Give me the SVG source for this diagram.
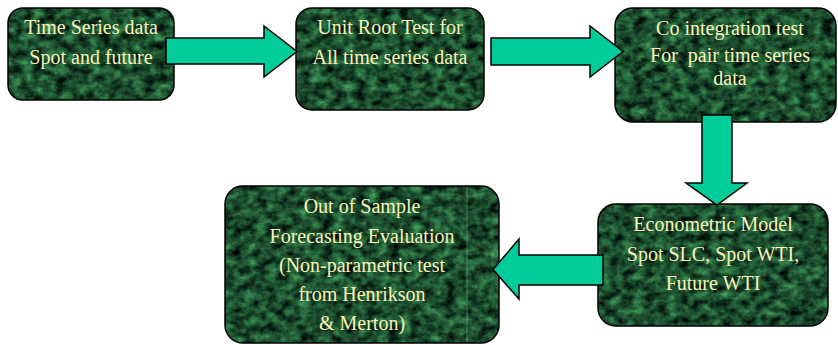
<svg xmlns="http://www.w3.org/2000/svg" width="838" height="345" viewBox="0 0 838 345">
<defs>
<filter id="marble" x="0" y="0" width="100%" height="100%" color-interpolation-filters="sRGB">
<feTurbulence type="fractalNoise" baseFrequency="0.09 0.12" numOctaves="5" seed="4" result="n"/>
<feColorMatrix in="n" type="matrix" values="0.38 0 0 0 -0.08  0.85 0 0 0 -0.12  0.48 0 0 0 -0.06  0 0 0 0 1" result="c"/>
<feComposite in="c" in2="SourceAlpha" operator="in"/>
</filter>
<style>
.box{fill:#1c4f30;filter:url(#marble);}
.edge{fill:none;stroke:#000;stroke-width:1.5;}
.lbl{font-family:"Liberation Serif","Times New Roman",serif;font-size:20px;fill:#f7f2b8;text-anchor:middle;white-space:pre;}
.arrow{fill:#00cc99;stroke:#000;stroke-width:1.5;stroke-linejoin:miter;}
</style>
</defs>
<rect width="838" height="345" fill="#ffffff"/>
<g id="node-timeseries">
<rect class="box" x="8" y="8" width="166" height="92" rx="15"/>
<rect class="edge" x="8" y="8" width="166" height="92" rx="15"/>
<text class="lbl" x="91" y="34">Time Series data</text>
<text class="lbl" x="91" y="64">Spot and future</text>
</g>
<g id="node-unitroot">
<rect class="box" x="296" y="8" width="188" height="102" rx="16"/>
<rect class="edge" x="296" y="8" width="188" height="102" rx="16"/>
<text class="lbl" x="390" y="34">Unit Root Test for</text>
<text class="lbl" x="390" y="64">All time series data</text>
</g>
<g id="node-cointegration">
<rect class="box" x="615" y="8" width="221" height="114" rx="18"/>
<rect class="edge" x="615" y="8" width="221" height="114" rx="18"/>
<text class="lbl" x="730" y="35">Co integration test</text>
<text class="lbl" x="730" y="62" xml:space="preserve">For  pair time series</text>
<text class="lbl" x="730" y="85">data</text>
</g>
<g id="node-econometric">
<rect class="box" x="598" y="204" width="230" height="122" rx="18"/>
<rect class="edge" x="598" y="204" width="230" height="122" rx="18"/>
<text class="lbl" x="713" y="231">Econometric Model</text>
<text class="lbl" x="713" y="261">Spot SLC, Spot WTI,</text>
<text class="lbl" x="713" y="290">Future WTI</text>
</g>
<g id="node-forecast">
<rect class="box" x="225" y="186" width="274" height="157" rx="18"/>
<line x1="467" y1="187" x2="467" y2="342" stroke="#6fa882" stroke-width="1" opacity="0.6"/>
<rect class="edge" x="225" y="186" width="274" height="157" rx="18"/>
<text class="lbl" x="362" y="213">Out of Sample</text>
<text class="lbl" x="362" y="243">Forecasting Evaluation</text>
<text class="lbl" x="362" y="272">(Non-parametric test</text>
<text class="lbl" x="362" y="301">from Henrikson</text>
<text class="lbl" x="362" y="330">&amp; Merton)</text>
</g>
<g id="connectors">
<polygon class="arrow" points="166,38 264,38 264,26 297,51.5 264,77 264,64 166,64"/>
<polygon class="arrow" points="491,38 590,38 590,26 623,51.5 590,77 590,65 491,65"/>
<polygon class="arrow" points="702,115 732,115 732,183 747,183 717,205 686,183 702,183"/>
<polygon class="arrow" points="603,255 519,255 519,239 493,269.5 519,299 519,285 603,285"/>
</g>
</svg>
